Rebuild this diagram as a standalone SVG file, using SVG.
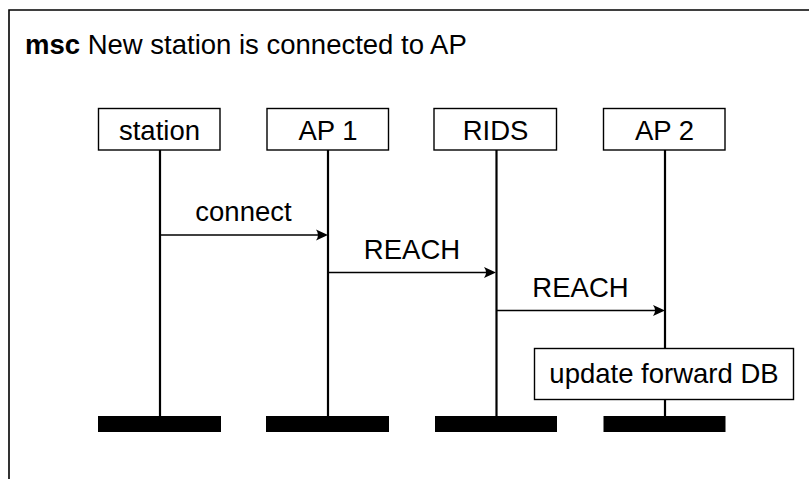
<svg xmlns="http://www.w3.org/2000/svg" width="809" height="479" viewBox="0 0 809 479">
<style>
text{font-family:"Liberation Sans",Arial,sans-serif;font-size:27.5px;fill:#000}
.box{fill:#fff;stroke:#000;stroke-width:1.4}
.life{stroke:#000;stroke-width:2.2}
.msg{stroke:#000;stroke-width:1.6;fill:none}
.head{fill:#000}
.bar{fill:#000}
</style>
<rect width="809" height="479" fill="#fff"/>
<g id="frame">
<path d="M9,479 V10 H809" fill="none" stroke="#000" stroke-width="1.6"/>
<text x="25" y="53.5" font-size="27.8"><tspan font-weight="bold">msc</tspan> New station is connected to AP</text>
</g>
<g id="lifelines">
<line class="life" x1="160" y1="150" x2="160" y2="416"/>
<line class="life" x1="328" y1="150" x2="328" y2="416"/>
<line class="life" x1="496.5" y1="150" x2="496.5" y2="416"/>
<line class="life" x1="665" y1="150" x2="665" y2="416"/>
</g>
<g id="station">
<rect class="box" x="98.5" y="108.5" width="121.5" height="41.5"/>
<text x="159.5" y="139.5" text-anchor="middle">station</text>
<rect class="bar" x="98" y="416" width="123" height="16"/>
</g>
<g id="ap1">
<rect class="box" x="267" y="108.5" width="121.5" height="41.5"/>
<text x="328" y="139.5" text-anchor="middle">AP 1</text>
<rect class="bar" x="266" y="416" width="123" height="16"/>
</g>
<g id="rids">
<rect class="box" x="434" y="108.5" width="122.5" height="41.5"/>
<text x="495.5" y="139.5" text-anchor="middle">RIDS</text>
<rect class="bar" x="435" y="416" width="122" height="16"/>
</g>
<g id="ap2">
<rect class="box" x="603.5" y="108.5" width="121.5" height="41.5"/>
<text x="664.5" y="139.5" text-anchor="middle">AP 2</text>
<rect class="bar" x="603.5" y="416" width="122" height="16"/>
</g>
<g id="connectors">
<line class="msg" x1="160" y1="235" x2="322" y2="235"/>
<path class="head" d="M328,235 L316,229.5 Q320,235 316,240.5 Z"/>
<text x="243.5" y="221" text-anchor="middle">connect</text>
<line class="msg" x1="328" y1="272.5" x2="490" y2="272.5"/>
<path class="head" d="M496,272.5 L484,267 Q488,272.5 484,278 Z"/>
<text x="412" y="259" text-anchor="middle">REACH</text>
<line class="msg" x1="496.5" y1="310.5" x2="659" y2="310.5"/>
<path class="head" d="M665,310.5 L653,305 Q657,310.5 653,316 Z"/>
<text x="580.5" y="296.5" text-anchor="middle">REACH</text>
</g>
<g id="update">
<rect class="box" x="534.5" y="348.5" width="259" height="51"/>
<text x="664" y="382.5" text-anchor="middle">update forward DB</text>
</g>
</svg>
